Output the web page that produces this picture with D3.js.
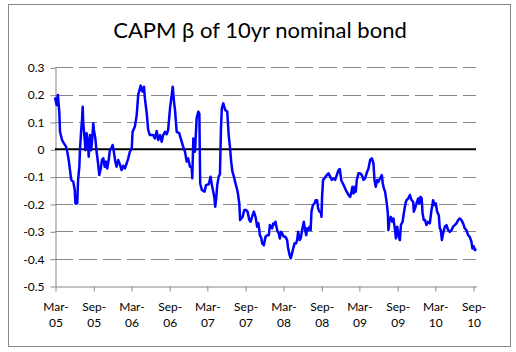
<!DOCTYPE html>
<html>
<head>
<meta charset="utf-8">
<script src="https://cdn.jsdelivr.net/npm/d3@7"></script>
<style>
    body { margin: 0; background: #fff; }
    svg { display: block; font-family: Lato, "DejaVu Sans", sans-serif; }
</style>
</head>
<body>
<svg id="chart" width="516" height="352"></svg>
<script>
// ============================================================
//  DATA
// ============================================================

const TITLE = "CAPM β of 10yr nominal bond";
const START_DATE = "2005-03-01";
const END_DATE = "2010-09-15";

// days after START_DATE for each observation
const DAY_OFFSETS = [
    0, 8, 14, 21, 24, 34, 43, 53, 59, 66,
    72, 78, 88, 95, 98, 107, 111, 117, 120, 126,
    130, 133, 136, 143, 146, 152, 159, 162, 168, 174,
    178, 184, 187, 194, 200, 207, 213, 220, 226, 232,
    239, 245, 251, 258, 264, 271, 277, 283, 290, 296,
    304, 312, 320, 328, 336, 345, 352, 360, 369, 373,
    384, 393, 400, 412, 421, 428, 432, 441, 448, 456,
    472, 480, 489, 496, 505, 513, 520, 529, 537, 544,
    553, 561, 566, 572, 577, 585, 597, 609, 616, 625,
    633, 640, 649, 657, 660, 665, 673, 681, 689, 694,
    698, 706, 719, 726, 739, 748, 754, 761, 767, 770,
    775, 780, 787, 793, 798, 802, 809, 818, 828, 835,
    841, 847, 853, 860, 866, 878, 886, 890, 902, 910,
    918, 926, 934, 940, 950, 956, 964, 972, 978, 985,
    992, 996, 1004, 1012, 1021, 1028, 1033, 1039, 1044, 1049,
    1056, 1060, 1068, 1076, 1081, 1087, 1092, 1100, 1108, 1116,
    1121, 1128, 1133, 1140, 1145, 1152, 1159, 1164, 1169, 1176,
    1181, 1188, 1196, 1201, 1208, 1212, 1217, 1224, 1229, 1233,
    1240, 1248, 1253, 1260, 1265, 1271, 1277, 1281, 1284, 1289,
    1296, 1307, 1315, 1323, 1331, 1339, 1347, 1355, 1363, 1369,
    1377, 1384, 1395, 1402, 1411, 1419, 1425, 1430, 1435, 1442,
    1446, 1451, 1459, 1467, 1475, 1483, 1491, 1499, 1507, 1515,
    1523, 1531, 1536, 1542, 1549, 1555, 1563, 1571, 1576, 1581,
    1587, 1595, 1600, 1603, 1608, 1614, 1622, 1627, 1635, 1639,
    1645, 1651, 1658, 1663, 1671, 1677, 1685, 1690, 1698, 1706,
    1714, 1722, 1725, 1731, 1738, 1746, 1751, 1757, 1763, 1767,
    1773, 1779, 1786, 1794, 1802, 1810, 1818, 1824, 1831, 1837,
    1845, 1850, 1855, 1860, 1866, 1874, 1882, 1890, 1898, 1906,
    1914, 1922, 1930, 1938, 1946, 1954, 1962, 1970, 1978, 1986,
    1994, 2002, 2007, 2013, 2019, 2024
];

const BETA_VALUES = [
    0.19, 0.162, 0.199, 0.132, 0.064, 0.034, 0.022, 0.01, -0.009, -0.039,
    -0.076, -0.112, -0.119, -0.149, -0.198, -0.198, -0.112, -0.064, -0.003, 0.071,
    0.107, 0.156, 0.095, 0.034, -0.003, 0.059, 0.01, -0.027, 0.052, -0.003,
    0.028, 0.095, 0.071, 0.04, -0.009, -0.051, -0.094, -0.07, -0.039, -0.033,
    -0.064, -0.045, -0.07, -0.039, -0.003, 0.004, 0.016, -0.009, -0.045, -0.064,
    -0.039, -0.055, -0.076, -0.06, -0.07, -0.051, -0.033, -0.009, 0.004, 0.064,
    0.083, 0.126, 0.199, 0.233, 0.211, 0.229, 0.187, 0.132, 0.071, 0.052,
    0.052, 0.04, 0.067, 0.034, 0.052, 0.028, 0.052, 0.064, 0.055, 0.071,
    0.15, 0.199, 0.229, 0.174, 0.144, 0.064, 0.059, 0.028, 0.01, -0.009,
    -0.045, -0.033, -0.064, -0.066, -0.106, 0.04, -0.009, 0.114, 0.138, 0.13,
    -0.125, -0.149, -0.155, -0.131, -0.128, -0.1, -0.13, -0.155, -0.18, -0.21,
    -0.18, -0.131, -0.1, -0.09, 0.077, 0.15, 0.168, 0.144, 0.138, 0.052,
    0.01, -0.045, -0.082, -0.1, -0.119, -0.155, -0.198, -0.259, -0.247, -0.222,
    -0.222, -0.228, -0.259, -0.265, -0.241, -0.228, -0.247, -0.283, -0.27, -0.314,
    -0.325, -0.344, -0.351, -0.32, -0.314, -0.314, -0.277, -0.285, -0.289, -0.271,
    -0.275, -0.265, -0.296, -0.308, -0.326, -0.302, -0.308, -0.32, -0.32, -0.332,
    -0.363, -0.387, -0.399, -0.38, -0.363, -0.344, -0.344, -0.332, -0.302, -0.332,
    -0.326, -0.296, -0.265, -0.289, -0.314, -0.289, -0.296, -0.283, -0.296, -0.228,
    -0.204, -0.198, -0.186, -0.186, -0.216, -0.228, -0.228, -0.247, -0.174, -0.112,
    -0.106, -0.094, -0.088, -0.1, -0.112, -0.106, -0.112, -0.094, -0.076, -0.072,
    -0.115, -0.125, -0.143, -0.155, -0.167, -0.174, -0.155, -0.137, -0.162, -0.137,
    -0.155, -0.112, -0.088, -0.088, -0.094, -0.112, -0.106, -0.085, -0.07, -0.039,
    -0.033, -0.051, -0.112, -0.137, -0.112, -0.119, -0.106, -0.094, -0.125, -0.143,
    -0.155, -0.198, -0.234, -0.296, -0.26, -0.247, -0.265, -0.253, -0.296, -0.326,
    -0.283, -0.314, -0.332, -0.277, -0.265, -0.234, -0.198, -0.186, -0.18, -0.167,
    -0.186, -0.192, -0.228, -0.216, -0.198, -0.18, -0.198, -0.174, -0.18, -0.234,
    -0.259, -0.259, -0.277, -0.265, -0.271, -0.222, -0.186, -0.204, -0.198, -0.228,
    -0.241, -0.289, -0.295, -0.332, -0.308, -0.283, -0.277, -0.296, -0.302, -0.296,
    -0.283, -0.277, -0.271, -0.259, -0.253, -0.259, -0.271, -0.289, -0.296, -0.314,
    -0.32, -0.338, -0.363, -0.355, -0.369, -0.363
];

const Y_TICKS = [0.3, 0.2, 0.1, 0, -0.1, -0.2, -0.3, -0.4, -0.5];

const X_TICK_DATES = [
    "2005-03-01", "2005-09-01", "2006-03-01", "2006-09-01",
    "2007-03-01", "2007-09-01", "2008-03-01", "2008-09-01",
    "2009-03-01", "2009-09-01", "2010-03-01", "2010-09-01"
];

// ============================================================
//  CONFIG
// ============================================================

const CONFIG = {
    WIDTH: 516,
    HEIGHT: 352,
    PLOT: { LEFT: 55, RIGHT: 476, TOP: 67.3, BOTTOM: 286 },
    AXIS_COLOR: "#868686",
    LINE_COLOR: "#0000ff",
    LINE_WIDTH: 2.5,
    TICK_SIZE: 5,
    LABEL_SIZE: "12px",
    TITLE_SIZE: "22px",
};

// ============================================================
//  DRAW
// ============================================================

const parseDate = d3.timeParse("%Y-%m-%d");
const start = parseDate(START_DATE);

const data = DAY_OFFSETS.map((d, i) => ({
    date: d3.timeDay.offset(start, d),
    value: BETA_VALUES[i]
}));

const svg = d3.select("#chart");

// --- Outer frame ---
svg.append("rect")
    .attr("x", 8.5).attr("y", 4.5)
    .attr("width", 502).attr("height", 342)
    .attr("fill", "#fff")
    .attr("stroke", CONFIG.AXIS_COLOR);

// --- Scales ---
const x = d3.scaleTime()
    .domain([start, parseDate(END_DATE)])
    .range([CONFIG.PLOT.LEFT, CONFIG.PLOT.RIGHT]);

const y = d3.scaleLinear()
    .domain([-0.5, 0.3])
    .range([CONFIG.PLOT.BOTTOM, CONFIG.PLOT.TOP]);

// --- Gridlines (dashed), skipping the bottom axis and the zero line ---
svg.append("g")
    .selectAll("line")
    .data(Y_TICKS.filter(v => v !== -0.5 && v !== 0))
    .join("line")
    .attr("x1", CONFIG.PLOT.LEFT)
    .attr("x2", CONFIG.PLOT.RIGHT)
    .attr("y1", d => Math.round(y(d)) + 0.5)
    .attr("y2", d => Math.round(y(d)) + 0.5)
    .attr("stroke", CONFIG.AXIS_COLOR)
    .attr("stroke-dasharray", "18,6");

// --- Y axis ---
const yAxis = svg.append("g")
    .attr("transform", `translate(${CONFIG.PLOT.LEFT + 0.5},0.5)`)
    .call(d3.axisLeft(y)
        .tickValues(Y_TICKS)
        .tickSize(CONFIG.TICK_SIZE)
        .tickSizeOuter(0)
        .tickPadding(6)
        .tickFormat(d => d === 0 ? "0" : String(d)));

yAxis.select(".domain").attr("stroke", CONFIG.AXIS_COLOR);
yAxis.selectAll(".tick line").attr("stroke", CONFIG.AXIS_COLOR);
yAxis.selectAll(".tick text")
    .attr("fill", "#000")
    .style("font-family", "Lato, sans-serif")
    .style("font-size", CONFIG.LABEL_SIZE);

// --- X axis ---
const xTickDates = X_TICK_DATES.map(parseDate);
const monthFmt = d3.timeFormat("%b-");
const yearFmt = d3.timeFormat("%y");

const xAxis = svg.append("g")
    .attr("transform", `translate(0.5,${Math.round(CONFIG.PLOT.BOTTOM) + 0.5})`)
    .call(d3.axisBottom(x)
        .tickValues(xTickDates)
        .tickSize(CONFIG.TICK_SIZE)
        .tickSizeOuter(0));

xAxis.select(".domain").attr("stroke", CONFIG.AXIS_COLOR);
xAxis.selectAll(".tick line").attr("stroke", CONFIG.AXIS_COLOR);
xAxis.selectAll(".tick text").remove();

xAxis.selectAll(".tick").each(function (d) {
    const t = d3.select(this).append("text")
        .attr("fill", "#000")
        .attr("text-anchor", "middle")
        .style("font-family", "Lato, sans-serif")
        .style("font-size", CONFIG.LABEL_SIZE);
    t.append("tspan").attr("x", 0).attr("y", 24).text(monthFmt(d));
    t.append("tspan").attr("x", 0).attr("y", 40).text(yearFmt(d));
});

// --- Zero line ---
svg.append("line")
    .attr("x1", CONFIG.PLOT.LEFT)
    .attr("x2", CONFIG.PLOT.RIGHT)
    .attr("y1", y(0))
    .attr("y2", y(0))
    .attr("stroke", "#000")
    .attr("stroke-width", 2);

// --- Series ---
const line = d3.line()
    .x(d => x(d.date))
    .y(d => y(d.value));

svg.append("path")
    .datum(data)
    .attr("d", line)
    .attr("fill", "none")
    .attr("stroke", CONFIG.LINE_COLOR)
    .attr("stroke-width", CONFIG.LINE_WIDTH)
    .attr("stroke-linejoin", "round");

// --- Title ---
svg.append("text")
    .attr("x", 260)
    .attr("y", 38)
    .attr("text-anchor", "middle")
    .style("font-family", "Lato, sans-serif")
    .style("font-size", CONFIG.TITLE_SIZE)
    .text(TITLE);
</script>
</body>
</html>
